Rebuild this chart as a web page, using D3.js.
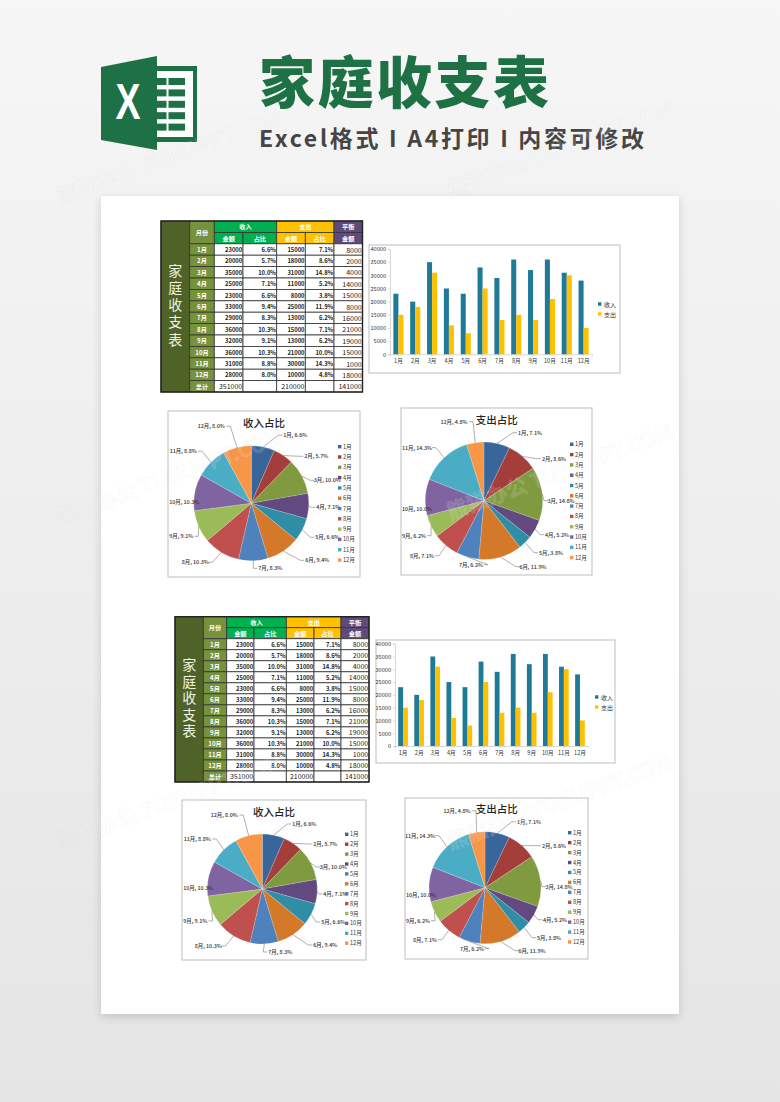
<!DOCTYPE html>
<html>
<head>
<meta charset="utf-8">
<script src="https://cdn.jsdelivr.net/npm/d3@7"></script>
<style>
  body { margin: 0; background: #ececec; }
  svg { display: block; }
  text { font-family: "Noto Sans CJK SC", "Noto Sans", sans-serif; }
</style>
</head>
<body>
<div id="chart"></div>
<script>
const months = ["1月", "2月", "3月", "4月", "5月", "6月", "7月", "8月", "9月", "10月", "11月", "12月"];
const income = [23000, 20000, 35000, 25000, 23000, 33000, 29000, 36000, 32000, 36000, 31000, 28000];
const expense = [15000, 18000, 31000, 11000, 8000, 25000, 13000, 15000, 13000, 21000, 30000, 10000];
const balance = [8000, 2000, 4000, 14000, 15000, 8000, 16000, 21000, 19000, 15000, 1000, 18000];
const incomeShare = [6.6, 5.7, 10.0, 7.1, 6.6, 9.4, 8.3, 10.3, 9.1, 10.3, 8.8, 8.0];
const expenseShare = [7.1, 8.6, 14.8, 5.2, 3.8, 11.9, 6.2, 7.1, 6.2, 10.0, 14.3, 4.8];
const totals = ["351000", "", "210000", "", "141000"];
const yTicks = [0, 5000, 10000, 15000, 20000, 25000, 30000, 35000, 40000];
const sliceColors = ["#38669b", "#a33e3b", "#7f9a3f", "#62497f", "#2f8ea6", "#d4782a",
  "#4f81bd", "#c0504d", "#9bbb59", "#8064a2", "#4bacc6", "#f79646"];

const width = 780, height = 1102;
const svg = d3.select("#chart").append("svg").attr("width", width).attr("height", height);

const defs = svg.append("defs");
const bg = defs.append("linearGradient").attr("id", "bg").attr("x2", 0).attr("y2", 1);
bg.append("stop").attr("offset", 0).attr("stop-color", "#f6f6f6");
bg.append("stop").attr("offset", 1).attr("stop-color", "#e5e5e5");
const shadow = defs.append("filter").attr("id", "shadow")
  .attr("x", "-5%").attr("y", "-5%").attr("width", "110%").attr("height", "110%");
shadow.append("feDropShadow").attr("dx", 0).attr("dy", 3).attr("stdDeviation", 5)
  .attr("flood-color", "#000").attr("flood-opacity", 0.16);

svg.append("rect").attr("width", width).attr("height", height).attr("fill", "url(#bg)");
svg.append("rect").attr("x", 101).attr("y", 196).attr("width", 578).attr("height", 818)
  .attr("fill", "#fff").attr("filter", "url(#shadow)");

// header
function drawLogo() {
  const g = svg.append("g");
  g.append("path").attr("fill", "#1e7145")
    .attr("d", "M101 67L157 56V66H197V142H157V150L101 140Z");
  g.append("rect").attr("x", 157).attr("y", 71).attr("width", 36).attr("height", 66).attr("fill", "#fff");
  d3.range(5).forEach((i) => {
    g.append("rect").attr("x", 157).attr("y", 78 + i * 11.4).attr("width", 9.5).attr("height", 7).attr("fill", "#1e7145");
    g.append("rect").attr("x", 168.5).attr("y", 78 + i * 11.4).attr("width", 16.5).attr("height", 7).attr("fill", "#1e7145");
  });
  g.append("text").attr("x", 128).attr("y", 119).attr("text-anchor", "middle")
    .attr("textLength", 25).attr("lengthAdjust", "spacingAndGlyphs")
    .style("font-family", "Liberation Sans").style("font-weight", 700).style("font-size", "50px")
    .attr("fill", "#fff").text("X");
}
drawLogo();

svg.append("text").attr("x", 259).attr("y", 103)
  .style("font-size", "56px").style("font-weight", 900).style("letter-spacing", "2.5px")
  .attr("fill", "#1e7145").text("家庭收支表");
svg.append("text").attr("x", 259).attr("y", 147)
  .attr("textLength", 385)
  .style("font-size", "23px").style("font-weight", 700)
  .attr("fill", "#454545").text("Excel格式 I A4打印 I 内容可修改");

function drawTable({ cols, top, bottom, labelStep }) {
  const g = svg.append("g");
  const rowCount = months.length + 3;
  const rowY = d3.scaleLinear().domain([0, rowCount]).range([top, bottom]);
  const border = "#333";

  const cell = (c0, c1, r0, r1, fill, label, opts = {}) => {
    const x0 = cols[c0], x1 = cols[c1], y0 = rowY(r0), y1 = rowY(r1);
    g.append("rect").attr("x", x0).attr("y", y0).attr("width", x1 - x0).attr("height", y1 - y0)
      .attr("fill", fill).attr("stroke", border).attr("stroke-width", 0.8);
    if (label === "") return;
    g.append("text")
      .attr("x", opts.right ? x1 - 0.8 : (x0 + x1) / 2)
      .attr("y", (y0 + y1) / 2)
      .attr("text-anchor", opts.right ? "end" : "middle")
      .attr("dominant-baseline", "central")
      .style("font-size", (opts.size || 6.2) + "px")
      .style("font-weight", opts.weight || 700)
      .attr("fill", opts.color || "#fff")
      .text(label);
  };

  const monthFill = "#76923c";
  const black = { right: true, color: "#222", size: 5.8 };
  const plain = { right: true, color: "#222", size: 7, weight: 400 };

  cell(0, 1, 0, rowCount, "#4f6228", "");
  // one vertical run, the step is set through letter spacing
  g.append("text")
    .attr("x", (cols[0] + cols[1]) / 2)
    .attr("y", (top + bottom) / 2)
    .attr("text-anchor", "middle")
    .style("writing-mode", "vertical-rl")
    .style("font-size", "14px")
    .style("letter-spacing", (labelStep - 14) + "px")
    .attr("fill", "#eef2e2")
    .text("家庭收支表");

  cell(1, 2, 0, 2, monthFill, "月份");
  cell(2, 4, 0, 1, "#00b050", "收入");
  cell(4, 6, 0, 1, "#ffc000", "支出");
  cell(6, 7, 0, 1, "#604a7b", "平衡");
  cell(2, 3, 1, 2, "#00b050", "金额");
  cell(3, 4, 1, 2, "#00b050", "占比");
  cell(4, 5, 1, 2, "#ffc000", "金额");
  cell(5, 6, 1, 2, "#ffc000", "占比");
  cell(6, 7, 1, 2, "#604a7b", "金额");

  months.forEach((m, i) => {
    const r = i + 2;
    cell(1, 2, r, r + 1, monthFill, m);
    cell(2, 3, r, r + 1, "#fff", income[i], black);
    cell(3, 4, r, r + 1, "#fff", incomeShare[i].toFixed(1) + "%", black);
    cell(4, 5, r, r + 1, "#fff", expense[i], black);
    cell(5, 6, r, r + 1, "#fff", expenseShare[i].toFixed(1) + "%", black);
    cell(6, 7, r, r + 1, "#fff", balance[i], plain);
  });

  const last = rowCount - 1;
  cell(1, 2, last, rowCount, monthFill, "总计");
  totals.forEach((t, i) => cell(i + 2, i + 3, last, rowCount, "#fff", t, plain));

  g.append("rect").attr("x", cols[0]).attr("y", top)
    .attr("width", cols[7] - cols[0]).attr("height", bottom - top)
    .attr("fill", "none").attr("stroke", "#222").attr("stroke-width", 1.4);
}

function drawBars({ box, plot, legendX, legendY }) {
  const g = svg.append("g");
  g.append("rect").attr("x", box.x0).attr("y", box.y0)
    .attr("width", box.x1 - box.x0).attr("height", box.y1 - box.y0)
    .attr("fill", "#fff").attr("stroke", "#c8c8c8").attr("stroke-width", 1.2);

  const x = d3.scaleBand().domain(months).range([plot.x0, plot.x1]).paddingInner(0.4).paddingOuter(0.2);
  const inner = d3.scaleBand().domain(["收入", "支出"]).range([0, x.bandwidth()]);
  const y = d3.scaleLinear().domain([0, 40000]).range([plot.y0, plot.y1]);

  const series = [
    { name: "收入", values: income, color: "#1f7a98" },
    { name: "支出", values: expense, color: "#ffc000" },
  ];

  const xAxis = g.append("g").attr("transform", `translate(0,${plot.y0})`)
    .call(d3.axisBottom(x).tickSize(2).tickPadding(3));
  const yAxis = g.append("g").attr("transform", `translate(${plot.x0},0)`)
    .call(d3.axisLeft(y).tickValues(yTicks).tickSize(2).tickPadding(2).tickFormat(d3.format("d")));
  [xAxis, yAxis].forEach((a) => {
    a.selectAll("path, line").attr("stroke", "#c9c9c9").attr("stroke-width", 0.7);
    a.selectAll("text").style("font-size", "5.6px").attr("fill", "#333");
  });

  series.forEach((s) => {
    g.append("g").selectAll("rect").data(s.values).join("rect")
      .attr("x", (d, i) => x(months[i]) + inner(s.name))
      .attr("y", (d) => y(d))
      .attr("width", inner.bandwidth())
      .attr("height", (d) => y(0) - y(d))
      .attr("fill", s.color);
  });

  series.forEach((s, i) => {
    const ly = legendY + i * 10;
    g.append("rect").attr("x", legendX).attr("y", ly - 1.7).attr("width", 3.4).attr("height", 3.4).attr("fill", s.color);
    g.append("text").attr("x", legendX + 6).attr("y", ly).attr("dominant-baseline", "central")
      .style("font-size", "6px").attr("fill", "#333").text(s.name);
  });
}

function drawPie({ box, cx, cy, r, title, titleX, titleY, values, shares, labels, legendX, legendY, legendStep }) {
  const g = svg.append("g");
  g.append("rect").attr("x", box.x0).attr("y", box.y0)
    .attr("width", box.x1 - box.x0).attr("height", box.y1 - box.y0)
    .attr("fill", "#fff").attr("stroke", "#c8c8c8").attr("stroke-width", 1.2);

  g.append("text").attr("x", titleX).attr("y", titleY)
    .attr("text-anchor", "middle").attr("dominant-baseline", "central")
    .style("font-size", "10.5px").style("font-weight", 500).attr("fill", "#222").text(title);

  const arcs = d3.pie().sort(null)(values);
  const arc = d3.arc().innerRadius(0).outerRadius(r);
  const pie = g.append("g").attr("transform", `translate(${cx},${cy})`);

  pie.selectAll("path").data(arcs).join("path")
    .attr("d", arc)
    .attr("fill", (d, i) => sliceColors[i])
    .attr("stroke", "#fff").attr("stroke-width", 0.3).attr("stroke-opacity", 0.6);

  // leader lines, only where the label sits clear of the pie
  arcs.forEach((d, i) => {
    const [lx, ly] = labels[i];
    const a = (d.startAngle + d.endAngle) / 2;
    const side = lx >= 0 ? 1 : -1;
    const labelHalf = months[i].length > 2 ? 15 : 13;
    const endX = lx - side * labelHalf;
    if (Math.hypot(endX, ly) < r + 4) return;
    const rimX = Math.sin(a) * r, rimY = -Math.cos(a) * r;
    pie.append("polyline")
      .attr("points", [[rimX, rimY], [endX - side * 4, ly], [endX, ly]].join(" "))
      .attr("fill", "none").attr("stroke", "#8c8c8c").attr("stroke-width", 0.7);
  });

  pie.selectAll("text").data(arcs).join("text")
    .attr("x", (d, i) => labels[i][0])
    .attr("y", (d, i) => labels[i][1])
    .attr("text-anchor", "middle").attr("dominant-baseline", "central")
    .style("font-size", "5.4px").style("font-weight", 500).attr("fill", "#333")
    .text((d, i) => `${months[i]}, ${shares[i].toFixed(1)}%`);

  months.forEach((m, i) => {
    const ly = legendY + i * legendStep;
    g.append("rect").attr("x", legendX).attr("y", ly - 1.7).attr("width", 3.4).attr("height", 3.4).attr("fill", sliceColors[i]);
    g.append("text").attr("x", legendX + 5).attr("y", ly).attr("dominant-baseline", "central")
      .style("font-size", "5.6px").attr("fill", "#333").text(m);
  });
}

// upper block
drawTable({ cols: [161, 189.7, 214.3, 243, 276.7, 305.3, 334, 362.5], top: 221, bottom: 392, labelStep: 17.3 });
drawBars({ box: { x0: 369, y0: 245, x1: 620, y1: 373 }, plot: { x0: 390, x1: 592, y0: 354.3, y1: 249 }, legendX: 598, legendY: 304 });
drawPie({
  box: { x0: 168, y0: 411, x1: 360, y1: 577 }, cx: 251.3, cy: 503.3, r: 57.5,
  title: "收入占比", titleX: 264, titleY: 422.5, values: income, shares: incomeShare,
  labels: [[44, -68], [65, -47], [76, -23], [77, 4], [76, 34], [66, 57], [19, 65], [-56, 59], [-70, 33], [-67, -1], [-68, -52], [-40, -77]],
  legendX: 338, legendY: 446.7, legendStep: 10.3,
});
drawPie({
  box: { x0: 401, y0: 408, x1: 592, y1: 575 }, cx: 484, cy: 500.7, r: 58.7,
  title: "支出占比", titleX: 496.7, titleY: 419.5, values: expense, shares: expenseShare,
  labels: [[46, -68], [70, -42], [77, 0], [73, 34], [67, 52], [49, 66], [-13, 64], [-62, 55], [-70, 35], [-67, 8], [-67, -53], [-30, -79]],
  legendX: 570, legendY: 444.3, legendStep: 10.3,
});

// lower block
drawTable({ cols: [175, 203.3, 226.7, 254, 286.3, 314, 341, 369], top: 616.7, bottom: 782, labelStep: 16.5 });
drawBars({ box: { x0: 376, y0: 640, x1: 615, y1: 763 }, plot: { x0: 395, x1: 588, y0: 746, y1: 643.7 }, legendX: 595, legendY: 697 });
drawPie({
  box: { x0: 182, y0: 800, x1: 366, y1: 960 }, cx: 262.3, cy: 889, r: 55,
  title: "收入占比", titleX: 274, titleY: 811.5, values: income, shares: incomeShare,
  labels: [[42, -65], [63, -45], [71, -22], [73, 5], [71, 33], [63, 56], [18, 63], [-54, 57], [-67, 32], [-64, -1], [-65, -50], [-38, -74]],
  legendX: 345, legendY: 834.3, legendStep: 9.9,
});
drawPie({
  box: { x0: 405, y0: 798, x1: 588, y1: 959 }, cx: 485, cy: 887.7, r: 56,
  title: "支出占比", titleX: 496.7, titleY: 808.5, values: expense, shares: expenseShare,
  labels: [[44, -66], [69, -42], [74, -1], [70, 32], [64, 50], [47, 63], [-13, 61], [-60, 52], [-67, 33], [-64, 7], [-65, -52], [-28, -77]],
  legendX: 568, legendY: 832.7, legendStep: 9.94,
});

// watermark
const marks = [[60, 205], [450, 197], [60, 525], [450, 520], [60, 850], [450, 850]];
svg.append("g").selectAll("text").data(marks).join("text")
  .attr("transform", (d) => `translate(${d[0]},${d[1]}) rotate(-20)`)
  .style("font-size", "21px").style("font-weight", 700)
  .attr("fill", "#fff").attr("fill-opacity", 0.14)
  .attr("stroke", "#cfcfcf").attr("stroke-opacity", 0.2).attr("stroke-width", 0.6)
  .text("熊猫办公 TUKUPPT.COM");
</script>
</body>
</html>
